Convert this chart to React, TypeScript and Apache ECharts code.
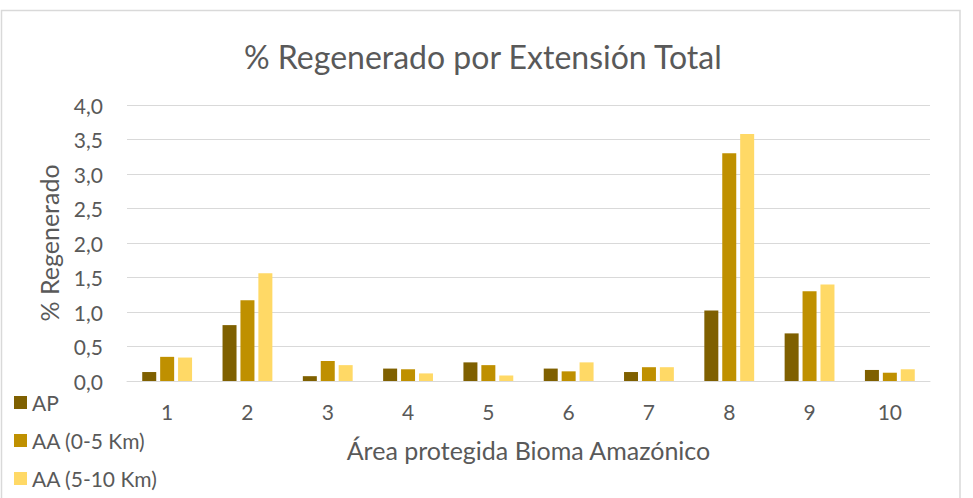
import React, { useEffect, useRef } from "react";
import * as echarts from "echarts";

const categories = ["1", "2", "3", "4", "5", "6", "7", "8", "9", "10"];
const seriesNames = ["AP", "AA (0-5 Km)", "AA (5-10 Km)"];
const apValues = [0.13, 0.81, 0.07, 0.18, 0.27, 0.18, 0.13, 1.02, 0.69, 0.16];
const aa05Values = [0.35, 1.17, 0.29, 0.17, 0.23, 0.14, 0.2, 3.3, 1.3, 0.12];
const aa510Values = [0.34, 1.56, 0.23, 0.11, 0.08, 0.27, 0.2, 3.58, 1.4, 0.17];
const colors = ["#7F6000", "#BF9000", "#FFD966"];

const FONT = "Lato";
const TXT = "#595959";
const legendCenters = [403, 441, 479];

export default function App() {
  const ref = useRef<HTMLDivElement>(null);
  useEffect(() => {
    if (!ref.current) return;
    const chart = echarts.init(ref.current, undefined, { renderer: "svg" });
    const data = [apValues, aa05Values, aa510Values];
    chart.setOption({
      animation: false,
      textStyle: { fontFamily: FONT },
      title: {
        text: "% Regenerado por Extensión Total",
        left: 239,
        top: 35,
        textStyle: { fontFamily: FONT, fontSize: 32, fontWeight: "normal", color: TXT },
      },
      graphic: [
        {
          type: "rect",
          shape: { x: 1.5, y: 10.5, width: 958.5, height: 500 },
          style: { fill: "none", stroke: "#d9d9d9", lineWidth: 1.5 },
          silent: true,
        },
      ],
      legend: seriesNames.map((name, i) => ({
        orient: "vertical",
        left: 14,
        top: legendCenters[i] - 11,
        padding: 0,
        itemWidth: 13,
        itemHeight: 13,
        itemGap: 0,
        icon: "rect",
        textStyle: { fontFamily: FONT, fontSize: 21, color: TXT },
        data: [name],
      })),
      grid: { left: 127, right: 43, top: 105, bottom: 117 },
      xAxis: {
        type: "category",
        data: categories,
        axisTick: { show: false },
        axisLine: { lineStyle: { color: "#d9d9d9", width: 1 } },
        axisLabel: { fontFamily: FONT, fontSize: 21, color: TXT, margin: 20 },
        name: "Área protegida Bioma Amazónico",
        nameLocation: "middle",
        nameGap: 56,
        nameTextStyle: { fontFamily: FONT, fontSize: 25, color: TXT },
      },
      yAxis: {
        type: "value",
        min: 0,
        max: 4,
        interval: 0.5,
        axisLabel: {
          fontFamily: FONT,
          fontSize: 21,
          color: TXT,
          margin: 24,
          formatter: (v: number) => v.toFixed(1).replace(".", ","),
        },
        splitLine: { lineStyle: { color: "#d9d9d9", width: 1 } },
        name: "% Regenerado",
        nameLocation: "middle",
        nameGap: 66,
        nameTextStyle: { fontFamily: FONT, fontSize: 25, color: TXT },
      },
      series: seriesNames.map((name, i) => ({
        name,
        type: "bar",
        data: data[i],
        barWidth: 14,
        barGap: "28%",
        itemStyle: { color: colors[i] },
      })),
    });
    return () => chart.dispose();
  }, []);
  return (
    <div
      ref={ref}
      style={{ position: "fixed", left: 0, top: 0, width: 973, height: 498, background: "#fff" }}
    />
  );
}
